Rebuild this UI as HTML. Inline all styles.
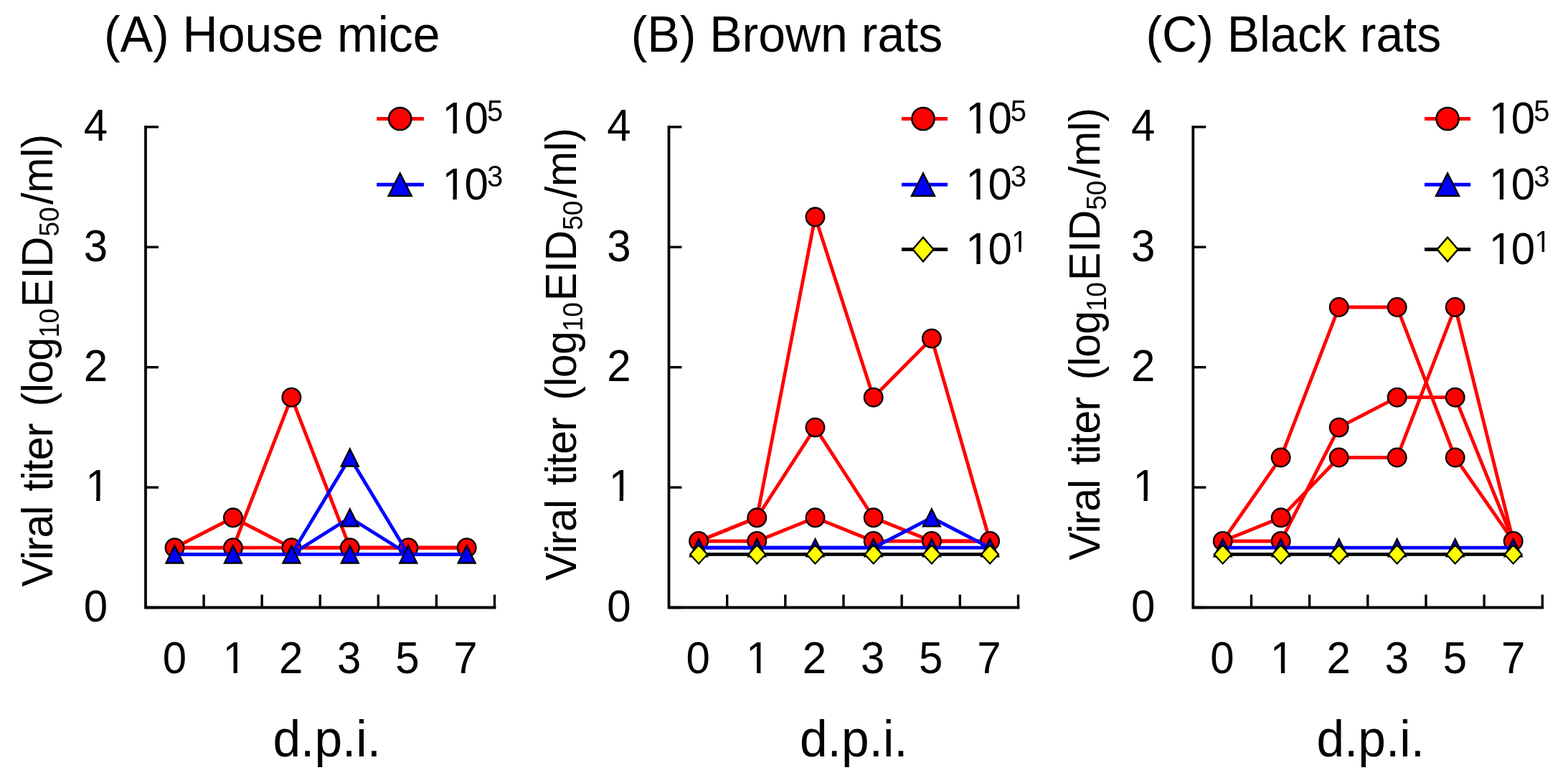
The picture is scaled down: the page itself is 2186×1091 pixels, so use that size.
<!DOCTYPE html><html><head><meta charset="utf-8"><title>Viral titer</title>
<style>html,body{margin:0;padding:0;background:#fff;}svg{display:block;}text{font-family:'Liberation Sans',Arial,Helvetica,sans-serif;fill:#000;}</style></head><body>
<svg width="2186" height="1091" viewBox="0 0 2186 1091">
<rect width="2186" height="1091" fill="#fff"/>
<g><text transform="translate(145.10,72.40) scale(1,1.04)" font-size="68">(A) House mice</text><text transform="translate(72.7,817.6) rotate(-90) scale(1,1.04)" font-size="59"><tspan letter-spacing="-1">Viral</tspan><tspan dx="5.2" letter-spacing="-0.8"> titer</tspan><tspan dx="8.3" letter-spacing="-0.6"> (log</tspan><tspan font-size="37" dy="9" letter-spacing="-0.6">10</tspan><tspan dx="2.6" dy="-9">EID</tspan><tspan font-size="37" dy="9">50</tspan><tspan dx="3.3" dy="-9">/ml)</tspan></text><path d="M203.00,176.90 V846.50 H689.50" fill="none" stroke="#000" stroke-width="3.8" stroke-linejoin="miter" stroke-linecap="square"/><line x1="203.00" y1="846.50" x2="221.00" y2="846.50" stroke="#000" stroke-width="3.4"/><text transform="translate(150.00,865.80) scale(1,1.04)" font-size="60" text-anchor="end">0</text><line x1="203.00" y1="679.10" x2="221.00" y2="679.10" stroke="#000" stroke-width="3.4"/><text transform="translate(152.50,698.40) scale(1,1.04)" font-size="60" text-anchor="end">1</text><line x1="203.00" y1="511.70" x2="221.00" y2="511.70" stroke="#000" stroke-width="3.4"/><text transform="translate(150.00,531.00) scale(1,1.04)" font-size="60" text-anchor="end">2</text><line x1="203.00" y1="344.30" x2="221.00" y2="344.30" stroke="#000" stroke-width="3.4"/><text transform="translate(150.00,363.60) scale(1,1.04)" font-size="60" text-anchor="end">3</text><line x1="203.00" y1="176.90" x2="221.00" y2="176.90" stroke="#000" stroke-width="3.4"/><text transform="translate(150.00,196.20) scale(1,1.04)" font-size="60" text-anchor="end">4</text><line x1="284.08" y1="846.50" x2="284.08" y2="828.50" stroke="#000" stroke-width="3.4"/><line x1="365.17" y1="846.50" x2="365.17" y2="828.50" stroke="#000" stroke-width="3.4"/><line x1="446.25" y1="846.50" x2="446.25" y2="828.50" stroke="#000" stroke-width="3.4"/><line x1="527.33" y1="846.50" x2="527.33" y2="828.50" stroke="#000" stroke-width="3.4"/><line x1="608.42" y1="846.50" x2="608.42" y2="828.50" stroke="#000" stroke-width="3.4"/><line x1="689.50" y1="846.50" x2="689.50" y2="828.50" stroke="#000" stroke-width="3.4"/><text transform="translate(243.54,938.30) scale(1,1.04)" font-size="60" text-anchor="middle">0</text><text transform="translate(327.12,938.30) scale(1,1.04)" font-size="60" text-anchor="middle">1</text><text transform="translate(405.71,938.30) scale(1,1.04)" font-size="60" text-anchor="middle">2</text><text transform="translate(486.79,938.30) scale(1,1.04)" font-size="60" text-anchor="middle">3</text><text transform="translate(567.88,938.30) scale(1,1.04)" font-size="60" text-anchor="middle">5</text><text transform="translate(648.96,938.30) scale(1,1.04)" font-size="60" text-anchor="middle">7</text><text transform="translate(455.75,1054.20) scale(1,1.04)" font-size="69.5" text-anchor="middle">d.p.i.</text><polyline points="243.50,763.20 324.94,721.30 406.38,763.20 487.82,763.20 569.26,763.20 650.70,763.20" fill="none" stroke="#ff0000" stroke-width="4.8" stroke-linejoin="miter"/><polyline points="243.50,763.20 324.94,763.20 406.38,553.70 487.82,763.20 569.26,763.20 650.70,763.20" fill="none" stroke="#ff0000" stroke-width="4.8" stroke-linejoin="miter"/><polyline points="243.50,763.20 324.94,763.20 406.38,763.20 487.82,763.20 569.26,763.20 650.70,763.20" fill="none" stroke="#ff0000" stroke-width="4.8" stroke-linejoin="miter"/><circle cx="243.50" cy="763.20" r="12.80" fill="#ff0000" stroke="#000" stroke-width="2.3"/><circle cx="324.94" cy="721.30" r="12.80" fill="#ff0000" stroke="#000" stroke-width="2.3"/><circle cx="406.38" cy="763.20" r="12.80" fill="#ff0000" stroke="#000" stroke-width="2.3"/><circle cx="487.82" cy="763.20" r="12.80" fill="#ff0000" stroke="#000" stroke-width="2.3"/><circle cx="569.26" cy="763.20" r="12.80" fill="#ff0000" stroke="#000" stroke-width="2.3"/><circle cx="650.70" cy="763.20" r="12.80" fill="#ff0000" stroke="#000" stroke-width="2.3"/><circle cx="324.94" cy="763.20" r="12.80" fill="#ff0000" stroke="#000" stroke-width="2.3"/><circle cx="406.38" cy="553.70" r="12.80" fill="#ff0000" stroke="#000" stroke-width="2.3"/><polyline points="243.50,772.42 324.94,772.42 406.38,772.42 487.82,637.50 569.26,772.42 650.70,772.42" fill="none" stroke="#0000ff" stroke-width="4.8" stroke-linejoin="miter"/><polyline points="243.50,772.42 324.94,772.42 406.38,772.42 487.82,721.30 569.26,772.42 650.70,772.42" fill="none" stroke="#0000ff" stroke-width="4.8" stroke-linejoin="miter"/><polyline points="243.50,772.42 324.94,772.42 406.38,772.42 487.82,772.42 569.26,772.42 650.70,772.42" fill="none" stroke="#0000ff" stroke-width="4.8" stroke-linejoin="miter"/><polygon points="243.50,760.32 255.50,784.52 231.50,784.52" fill="#0000ff" stroke="#000" stroke-width="2.3"/><polygon points="324.94,760.32 336.94,784.52 312.94,784.52" fill="#0000ff" stroke="#000" stroke-width="2.3"/><polygon points="406.38,760.32 418.38,784.52 394.38,784.52" fill="#0000ff" stroke="#000" stroke-width="2.3"/><polygon points="487.82,625.40 499.82,649.60 475.82,649.60" fill="#0000ff" stroke="#000" stroke-width="2.3"/><polygon points="569.26,760.32 581.26,784.52 557.26,784.52" fill="#0000ff" stroke="#000" stroke-width="2.3"/><polygon points="650.70,760.32 662.70,784.52 638.70,784.52" fill="#0000ff" stroke="#000" stroke-width="2.3"/><polygon points="487.82,709.20 499.82,733.40 475.82,733.40" fill="#0000ff" stroke="#000" stroke-width="2.3"/><polygon points="487.82,760.32 499.82,784.52 475.82,784.52" fill="#0000ff" stroke="#000" stroke-width="2.3"/><line x1="525.2" y1="165.5" x2="590.9" y2="165.5" stroke="#ff0000" stroke-width="5"/><circle cx="557.70" cy="165.50" r="15.60" fill="#ff0000" stroke="#000" stroke-width="2.5"/><text transform="translate(616.40,186.00) scale(1,1.04)" font-size="60">1<tspan dx="-2.2">0</tspan><tspan font-size="40" dx="-2.0" dy="-16.8">5</tspan></text><line x1="525.2" y1="257.3" x2="590.9" y2="257.3" stroke="#0000ff" stroke-width="5"/><polygon points="557.70,241.55 573.70,273.05 541.70,273.05" fill="#0000ff" stroke="#000" stroke-width="2.5"/><text transform="translate(616.40,277.80) scale(1,1.04)" font-size="60">1<tspan dx="-2.2">0</tspan><tspan font-size="40" dx="-2.0" dy="-16.8">3</tspan></text><rect x="122.44" y="692" width="11.73" height="8" fill="#fff"/><rect x="139.51" y="692" width="11.43" height="8" fill="#fff"/><rect x="313.75" y="932" width="11.73" height="8" fill="#fff"/><rect x="330.81" y="932" width="11.43" height="8" fill="#fff"/><rect x="619.70" y="180" width="11.73" height="8" fill="#fff"/><rect x="636.77" y="180" width="11.43" height="8" fill="#fff"/><rect x="619.70" y="272" width="11.73" height="7" fill="#fff"/><rect x="636.77" y="272" width="11.43" height="7" fill="#fff"/></g>
<g><text transform="translate(879.70,72.40) scale(1,1.04)" font-size="68">(B) Brown rats</text><text transform="translate(802.7,808.9) rotate(-90) scale(1,1.04)" font-size="59"><tspan letter-spacing="-1">Viral</tspan><tspan dx="5.2" letter-spacing="-0.8"> titer</tspan><tspan dx="8.3" letter-spacing="-0.6"> (log</tspan><tspan font-size="37" dy="9" letter-spacing="-0.6">10</tspan><tspan dx="2.6" dy="-9">EID</tspan><tspan font-size="37" dy="9">50</tspan><tspan dx="3.3" dy="-9">/ml)</tspan></text><path d="M932.50,176.90 V846.50 H1419.50" fill="none" stroke="#000" stroke-width="3.8" stroke-linejoin="miter" stroke-linecap="square"/><line x1="932.50" y1="846.50" x2="950.50" y2="846.50" stroke="#000" stroke-width="3.4"/><text transform="translate(879.50,865.80) scale(1,1.04)" font-size="60" text-anchor="end">0</text><line x1="932.50" y1="679.10" x2="950.50" y2="679.10" stroke="#000" stroke-width="3.4"/><text transform="translate(882.00,698.40) scale(1,1.04)" font-size="60" text-anchor="end">1</text><line x1="932.50" y1="511.70" x2="950.50" y2="511.70" stroke="#000" stroke-width="3.4"/><text transform="translate(879.50,531.00) scale(1,1.04)" font-size="60" text-anchor="end">2</text><line x1="932.50" y1="344.30" x2="950.50" y2="344.30" stroke="#000" stroke-width="3.4"/><text transform="translate(879.50,363.60) scale(1,1.04)" font-size="60" text-anchor="end">3</text><line x1="932.50" y1="176.90" x2="950.50" y2="176.90" stroke="#000" stroke-width="3.4"/><text transform="translate(879.50,196.20) scale(1,1.04)" font-size="60" text-anchor="end">4</text><line x1="1013.67" y1="846.50" x2="1013.67" y2="828.50" stroke="#000" stroke-width="3.4"/><line x1="1094.83" y1="846.50" x2="1094.83" y2="828.50" stroke="#000" stroke-width="3.4"/><line x1="1176.00" y1="846.50" x2="1176.00" y2="828.50" stroke="#000" stroke-width="3.4"/><line x1="1257.17" y1="846.50" x2="1257.17" y2="828.50" stroke="#000" stroke-width="3.4"/><line x1="1338.33" y1="846.50" x2="1338.33" y2="828.50" stroke="#000" stroke-width="3.4"/><line x1="1419.50" y1="846.50" x2="1419.50" y2="828.50" stroke="#000" stroke-width="3.4"/><text transform="translate(973.08,938.30) scale(1,1.04)" font-size="60" text-anchor="middle">0</text><text transform="translate(1056.75,938.30) scale(1,1.04)" font-size="60" text-anchor="middle">1</text><text transform="translate(1135.42,938.30) scale(1,1.04)" font-size="60" text-anchor="middle">2</text><text transform="translate(1216.58,938.30) scale(1,1.04)" font-size="60" text-anchor="middle">3</text><text transform="translate(1297.75,938.30) scale(1,1.04)" font-size="60" text-anchor="middle">5</text><text transform="translate(1378.92,938.30) scale(1,1.04)" font-size="60" text-anchor="middle">7</text><text transform="translate(1190.30,1054.20) scale(1,1.04)" font-size="69.5" text-anchor="middle">d.p.i.</text><polyline points="974.10,753.98 1055.30,721.30 1136.50,302.30 1217.70,553.70 1298.90,471.58 1380.10,753.98" fill="none" stroke="#ff0000" stroke-width="4.8" stroke-linejoin="miter"/><polyline points="974.10,753.98 1055.30,721.30 1136.50,595.60 1217.70,721.30 1298.90,753.98 1380.10,753.98" fill="none" stroke="#ff0000" stroke-width="4.8" stroke-linejoin="miter"/><polyline points="974.10,753.98 1055.30,753.98 1136.50,721.30 1217.70,753.98 1298.90,753.98 1380.10,753.98" fill="none" stroke="#ff0000" stroke-width="4.8" stroke-linejoin="miter"/><circle cx="974.10" cy="753.98" r="12.80" fill="#ff0000" stroke="#000" stroke-width="2.3"/><circle cx="1055.30" cy="721.30" r="12.80" fill="#ff0000" stroke="#000" stroke-width="2.3"/><circle cx="1136.50" cy="302.30" r="12.80" fill="#ff0000" stroke="#000" stroke-width="2.3"/><circle cx="1217.70" cy="553.70" r="12.80" fill="#ff0000" stroke="#000" stroke-width="2.3"/><circle cx="1298.90" cy="471.58" r="12.80" fill="#ff0000" stroke="#000" stroke-width="2.3"/><circle cx="1380.10" cy="753.98" r="12.80" fill="#ff0000" stroke="#000" stroke-width="2.3"/><circle cx="1136.50" cy="595.60" r="12.80" fill="#ff0000" stroke="#000" stroke-width="2.3"/><circle cx="1217.70" cy="721.30" r="12.80" fill="#ff0000" stroke="#000" stroke-width="2.3"/><circle cx="1298.90" cy="753.98" r="12.80" fill="#ff0000" stroke="#000" stroke-width="2.3"/><circle cx="1055.30" cy="753.98" r="12.80" fill="#ff0000" stroke="#000" stroke-width="2.3"/><circle cx="1136.50" cy="721.30" r="12.80" fill="#ff0000" stroke="#000" stroke-width="2.3"/><circle cx="1217.70" cy="753.98" r="12.80" fill="#ff0000" stroke="#000" stroke-width="2.3"/><polyline points="974.10,763.20 1055.30,763.20 1136.50,763.20 1217.70,763.20 1298.90,721.30 1380.10,763.20" fill="none" stroke="#0000ff" stroke-width="4.8" stroke-linejoin="miter"/><polyline points="974.10,763.20 1055.30,763.20 1136.50,763.20 1217.70,763.20 1298.90,763.20 1380.10,763.20" fill="none" stroke="#0000ff" stroke-width="4.8" stroke-linejoin="miter"/><polygon points="974.10,751.10 986.10,775.30 962.10,775.30" fill="#0000ff" stroke="#000" stroke-width="2.3"/><polygon points="1055.30,751.10 1067.30,775.30 1043.30,775.30" fill="#0000ff" stroke="#000" stroke-width="2.3"/><polygon points="1136.50,751.10 1148.50,775.30 1124.50,775.30" fill="#0000ff" stroke="#000" stroke-width="2.3"/><polygon points="1217.70,751.10 1229.70,775.30 1205.70,775.30" fill="#0000ff" stroke="#000" stroke-width="2.3"/><polygon points="1298.90,709.20 1310.90,733.40 1286.90,733.40" fill="#0000ff" stroke="#000" stroke-width="2.3"/><polygon points="1380.10,751.10 1392.10,775.30 1368.10,775.30" fill="#0000ff" stroke="#000" stroke-width="2.3"/><polygon points="1298.90,751.10 1310.90,775.30 1286.90,775.30" fill="#0000ff" stroke="#000" stroke-width="2.3"/><polyline points="974.10,772.42 1055.30,772.42 1136.50,772.42 1217.70,772.42 1298.90,772.42 1380.10,772.42" fill="none" stroke="#000000" stroke-width="4.8" stroke-linejoin="miter"/><polygon points="974.10,759.42 986.10,772.42 974.10,785.42 962.10,772.42" fill="#ffff00" stroke="#000" stroke-width="2.2"/><polygon points="1055.30,759.42 1067.30,772.42 1055.30,785.42 1043.30,772.42" fill="#ffff00" stroke="#000" stroke-width="2.2"/><polygon points="1136.50,759.42 1148.50,772.42 1136.50,785.42 1124.50,772.42" fill="#ffff00" stroke="#000" stroke-width="2.2"/><polygon points="1217.70,759.42 1229.70,772.42 1217.70,785.42 1205.70,772.42" fill="#ffff00" stroke="#000" stroke-width="2.2"/><polygon points="1298.90,759.42 1310.90,772.42 1298.90,785.42 1286.90,772.42" fill="#ffff00" stroke="#000" stroke-width="2.2"/><polygon points="1380.10,759.42 1392.10,772.42 1380.10,785.42 1368.10,772.42" fill="#ffff00" stroke="#000" stroke-width="2.2"/><line x1="1257.0" y1="165.5" x2="1321.1" y2="165.5" stroke="#ff0000" stroke-width="5"/><circle cx="1287.00" cy="165.50" r="15.60" fill="#ff0000" stroke="#000" stroke-width="2.5"/><text transform="translate(1346.30,186.00) scale(1,1.04)" font-size="60">1<tspan dx="-2.2">0</tspan><tspan font-size="40" dx="-2.0" dy="-16.8">5</tspan></text><line x1="1257.0" y1="257.3" x2="1321.1" y2="257.3" stroke="#0000ff" stroke-width="5"/><polygon points="1287.00,241.55 1303.00,273.05 1271.00,273.05" fill="#0000ff" stroke="#000" stroke-width="2.5"/><text transform="translate(1346.30,277.80) scale(1,1.04)" font-size="60">1<tspan dx="-2.2">0</tspan><tspan font-size="40" dx="-2.0" dy="-16.8">3</tspan></text><line x1="1257.0" y1="347.5" x2="1321.1" y2="347.5" stroke="#000000" stroke-width="5"/><polygon points="1287.00,330.70 1301.50,347.50 1287.00,364.30 1272.50,347.50" fill="#ffff00" stroke="#000" stroke-width="2.4"/><text transform="translate(1346.30,368.00) scale(1,1.04)" font-size="60">1<tspan dx="-2.2">0</tspan><tspan font-size="40" dx="-0.7" dy="-16.8">1</tspan></text><rect x="851.94" y="692" width="11.73" height="8" fill="#fff"/><rect x="869.01" y="692" width="11.43" height="8" fill="#fff"/><rect x="1043.37" y="932" width="11.73" height="8" fill="#fff"/><rect x="1060.44" y="932" width="11.43" height="8" fill="#fff"/><rect x="1349.60" y="180" width="11.73" height="8" fill="#fff"/><rect x="1366.67" y="180" width="11.43" height="8" fill="#fff"/><rect x="1349.60" y="272" width="11.73" height="7" fill="#fff"/><rect x="1366.67" y="272" width="11.43" height="7" fill="#fff"/><rect x="1349.60" y="362" width="11.73" height="8" fill="#fff"/><rect x="1366.67" y="362" width="11.43" height="8" fill="#fff"/><rect x="1412.32" y="346" width="7.82" height="6" fill="#fff"/><rect x="1423.70" y="346" width="7.62" height="6" fill="#fff"/></g>
<g><text transform="translate(1597.40,72.40) scale(1,1.04)" font-size="68">(C) Black rats</text><text transform="translate(1532.7,780.8) rotate(-90) scale(1,1.04)" font-size="59"><tspan letter-spacing="-1">Viral</tspan><tspan dx="5.2" letter-spacing="-0.8"> titer</tspan><tspan dx="8.3" letter-spacing="-0.6"> (log</tspan><tspan font-size="37" dy="9" letter-spacing="-0.6">10</tspan><tspan dx="2.6" dy="-9">EID</tspan><tspan font-size="37" dy="9">50</tspan><tspan dx="3.3" dy="-9">/ml)</tspan></text><path d="M1663.30,176.90 V846.50 H2150.30" fill="none" stroke="#000" stroke-width="3.8" stroke-linejoin="miter" stroke-linecap="square"/><line x1="1663.30" y1="846.50" x2="1681.30" y2="846.50" stroke="#000" stroke-width="3.4"/><text transform="translate(1610.30,865.80) scale(1,1.04)" font-size="60" text-anchor="end">0</text><line x1="1663.30" y1="679.10" x2="1681.30" y2="679.10" stroke="#000" stroke-width="3.4"/><text transform="translate(1612.80,698.40) scale(1,1.04)" font-size="60" text-anchor="end">1</text><line x1="1663.30" y1="511.70" x2="1681.30" y2="511.70" stroke="#000" stroke-width="3.4"/><text transform="translate(1610.30,531.00) scale(1,1.04)" font-size="60" text-anchor="end">2</text><line x1="1663.30" y1="344.30" x2="1681.30" y2="344.30" stroke="#000" stroke-width="3.4"/><text transform="translate(1610.30,363.60) scale(1,1.04)" font-size="60" text-anchor="end">3</text><line x1="1663.30" y1="176.90" x2="1681.30" y2="176.90" stroke="#000" stroke-width="3.4"/><text transform="translate(1610.30,196.20) scale(1,1.04)" font-size="60" text-anchor="end">4</text><line x1="1744.47" y1="846.50" x2="1744.47" y2="828.50" stroke="#000" stroke-width="3.4"/><line x1="1825.63" y1="846.50" x2="1825.63" y2="828.50" stroke="#000" stroke-width="3.4"/><line x1="1906.80" y1="846.50" x2="1906.80" y2="828.50" stroke="#000" stroke-width="3.4"/><line x1="1987.97" y1="846.50" x2="1987.97" y2="828.50" stroke="#000" stroke-width="3.4"/><line x1="2069.13" y1="846.50" x2="2069.13" y2="828.50" stroke="#000" stroke-width="3.4"/><line x1="2150.30" y1="846.50" x2="2150.30" y2="828.50" stroke="#000" stroke-width="3.4"/><text transform="translate(1703.88,938.30) scale(1,1.04)" font-size="60" text-anchor="middle">0</text><text transform="translate(1787.55,938.30) scale(1,1.04)" font-size="60" text-anchor="middle">1</text><text transform="translate(1866.22,938.30) scale(1,1.04)" font-size="60" text-anchor="middle">2</text><text transform="translate(1947.38,938.30) scale(1,1.04)" font-size="60" text-anchor="middle">3</text><text transform="translate(2028.55,938.30) scale(1,1.04)" font-size="60" text-anchor="middle">5</text><text transform="translate(2109.72,938.30) scale(1,1.04)" font-size="60" text-anchor="middle">7</text><text transform="translate(1910.70,1054.20) scale(1,1.04)" font-size="69.5" text-anchor="middle">d.p.i.</text><polyline points="1704.70,753.98 1785.70,637.50 1866.70,428.00 1947.70,428.00 2028.70,637.50 2109.70,753.98" fill="none" stroke="#ff0000" stroke-width="4.8" stroke-linejoin="miter"/><polyline points="1704.70,753.98 1785.70,721.30 1866.70,637.50 1947.70,637.50 2028.70,428.00 2109.70,753.98" fill="none" stroke="#ff0000" stroke-width="4.8" stroke-linejoin="miter"/><polyline points="1704.70,753.98 1785.70,753.98 1866.70,595.60 1947.70,553.70 2028.70,553.70 2109.70,753.98" fill="none" stroke="#ff0000" stroke-width="4.8" stroke-linejoin="miter"/><circle cx="1704.70" cy="753.98" r="12.80" fill="#ff0000" stroke="#000" stroke-width="2.3"/><circle cx="1785.70" cy="637.50" r="12.80" fill="#ff0000" stroke="#000" stroke-width="2.3"/><circle cx="1866.70" cy="428.00" r="12.80" fill="#ff0000" stroke="#000" stroke-width="2.3"/><circle cx="1947.70" cy="428.00" r="12.80" fill="#ff0000" stroke="#000" stroke-width="2.3"/><circle cx="2028.70" cy="637.50" r="12.80" fill="#ff0000" stroke="#000" stroke-width="2.3"/><circle cx="2109.70" cy="753.98" r="12.80" fill="#ff0000" stroke="#000" stroke-width="2.3"/><circle cx="1785.70" cy="721.30" r="12.80" fill="#ff0000" stroke="#000" stroke-width="2.3"/><circle cx="1866.70" cy="637.50" r="12.80" fill="#ff0000" stroke="#000" stroke-width="2.3"/><circle cx="1947.70" cy="637.50" r="12.80" fill="#ff0000" stroke="#000" stroke-width="2.3"/><circle cx="2028.70" cy="428.00" r="12.80" fill="#ff0000" stroke="#000" stroke-width="2.3"/><circle cx="1785.70" cy="753.98" r="12.80" fill="#ff0000" stroke="#000" stroke-width="2.3"/><circle cx="1866.70" cy="595.60" r="12.80" fill="#ff0000" stroke="#000" stroke-width="2.3"/><circle cx="1947.70" cy="553.70" r="12.80" fill="#ff0000" stroke="#000" stroke-width="2.3"/><circle cx="2028.70" cy="553.70" r="12.80" fill="#ff0000" stroke="#000" stroke-width="2.3"/><polyline points="1704.70,763.20 1785.70,763.20 1866.70,763.20 1947.70,763.20 2028.70,763.20 2109.70,763.20" fill="none" stroke="#0000ff" stroke-width="4.8" stroke-linejoin="miter"/><polygon points="1704.70,751.10 1716.70,775.30 1692.70,775.30" fill="#0000ff" stroke="#000" stroke-width="2.3"/><polygon points="1785.70,751.10 1797.70,775.30 1773.70,775.30" fill="#0000ff" stroke="#000" stroke-width="2.3"/><polygon points="1866.70,751.10 1878.70,775.30 1854.70,775.30" fill="#0000ff" stroke="#000" stroke-width="2.3"/><polygon points="1947.70,751.10 1959.70,775.30 1935.70,775.30" fill="#0000ff" stroke="#000" stroke-width="2.3"/><polygon points="2028.70,751.10 2040.70,775.30 2016.70,775.30" fill="#0000ff" stroke="#000" stroke-width="2.3"/><polygon points="2109.70,751.10 2121.70,775.30 2097.70,775.30" fill="#0000ff" stroke="#000" stroke-width="2.3"/><polyline points="1704.70,772.42 1785.70,772.42 1866.70,772.42 1947.70,772.42 2028.70,772.42 2109.70,772.42" fill="none" stroke="#000000" stroke-width="4.8" stroke-linejoin="miter"/><polygon points="1704.70,759.42 1716.70,772.42 1704.70,785.42 1692.70,772.42" fill="#ffff00" stroke="#000" stroke-width="2.2"/><polygon points="1785.70,759.42 1797.70,772.42 1785.70,785.42 1773.70,772.42" fill="#ffff00" stroke="#000" stroke-width="2.2"/><polygon points="1866.70,759.42 1878.70,772.42 1866.70,785.42 1854.70,772.42" fill="#ffff00" stroke="#000" stroke-width="2.2"/><polygon points="1947.70,759.42 1959.70,772.42 1947.70,785.42 1935.70,772.42" fill="#ffff00" stroke="#000" stroke-width="2.2"/><polygon points="2028.70,759.42 2040.70,772.42 2028.70,785.42 2016.70,772.42" fill="#ffff00" stroke="#000" stroke-width="2.2"/><polygon points="2109.70,759.42 2121.70,772.42 2109.70,785.42 2097.70,772.42" fill="#ffff00" stroke="#000" stroke-width="2.2"/><line x1="1986.0" y1="165.5" x2="2050.2" y2="165.5" stroke="#ff0000" stroke-width="5"/><circle cx="2018.10" cy="165.50" r="15.60" fill="#ff0000" stroke="#000" stroke-width="2.5"/><text transform="translate(2075.70,186.00) scale(1,1.04)" font-size="60">1<tspan dx="-2.2">0</tspan><tspan font-size="40" dx="-2.0" dy="-16.8">5</tspan></text><line x1="1986.0" y1="257.3" x2="2050.2" y2="257.3" stroke="#0000ff" stroke-width="5"/><polygon points="2018.10,241.55 2034.10,273.05 2002.10,273.05" fill="#0000ff" stroke="#000" stroke-width="2.5"/><text transform="translate(2075.70,277.80) scale(1,1.04)" font-size="60">1<tspan dx="-2.2">0</tspan><tspan font-size="40" dx="-2.0" dy="-16.8">3</tspan></text><line x1="1986.0" y1="347.5" x2="2050.2" y2="347.5" stroke="#000000" stroke-width="5"/><polygon points="2018.10,330.70 2032.60,347.50 2018.10,364.30 2003.60,347.50" fill="#ffff00" stroke="#000" stroke-width="2.4"/><text transform="translate(2075.70,368.00) scale(1,1.04)" font-size="60">1<tspan dx="-2.2">0</tspan><tspan font-size="40" dx="-0.7" dy="-16.8">1</tspan></text><rect x="1582.74" y="692" width="11.73" height="8" fill="#fff"/><rect x="1599.81" y="692" width="11.43" height="8" fill="#fff"/><rect x="1774.17" y="932" width="11.73" height="8" fill="#fff"/><rect x="1791.24" y="932" width="11.43" height="8" fill="#fff"/><rect x="2079.00" y="180" width="11.73" height="8" fill="#fff"/><rect x="2096.07" y="180" width="11.43" height="8" fill="#fff"/><rect x="2079.00" y="272" width="11.73" height="7" fill="#fff"/><rect x="2096.07" y="272" width="11.43" height="7" fill="#fff"/><rect x="2079.00" y="362" width="11.73" height="8" fill="#fff"/><rect x="2096.07" y="362" width="11.43" height="8" fill="#fff"/><rect x="2141.72" y="346" width="7.82" height="6" fill="#fff"/><rect x="2153.10" y="346" width="7.62" height="6" fill="#fff"/></g>
</svg></body></html>
